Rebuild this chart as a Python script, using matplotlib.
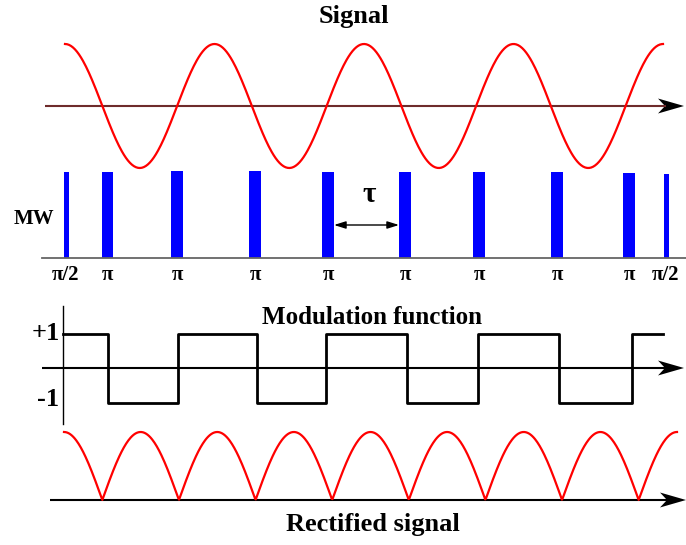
import numpy as np
import matplotlib
matplotlib.use("Agg")
import matplotlib.pyplot as plt

# layout in image pixels (y grows downward)
W, H = 686, 545

# top panel: the signal
signal_x = (65, 663)          # start / end of the cosine
signal_periods = 4
signal_axis_y = 106
signal_amp = 62

# MW pulses
pulse_x = [66, 107, 177, 255, 328, 405, 479, 557, 629, 666]
pulse_w = [5, 11, 12, 12, 12, 12, 12, 12, 12, 5]
pulse_top = [172, 172, 171, 171, 172, 172, 172, 172, 173, 174]
pulse_labels = ["π/2", "π", "π", "π", "π", "π", "π", "π", "π", "π/2"]
mw_base_y = 258

# modulation function
mod_edges = [63, 108, 178, 257, 326, 407, 478, 559, 632, 663]
mod_levels = [1, -1, 1, -1, 1, -1, 1, -1, 1]
mod_axis_y = 368
mod_scale = 34.5

# rectified signal
rect_x = (64, 677)
rect_humps = 8
rect_axis_y = 500
rect_amp = 68

serif = "Liberation Serif"

fig = plt.figure(figsize=(W / 100, H / 100), dpi=100)
ax = fig.add_axes([0, 0, 1, 1])
ax.set_xlim(0, W)
ax.set_ylim(H, 0)
ax.axis("off")


def arrow_axis(y, x0, x1, color):
    # line plus a stealth-shaped black head
    ax.plot([x0, x1 - 18], [y, y], color=color, lw=1.5, solid_capstyle="butt")
    ax.fill([x1, x1 - 26, x1 - 19, x1 - 26], [y, y - 7.5, y, y + 7.5],
            color="black", lw=0)


def label(x, y, s, size):
    ax.text(x, y, s, fontsize=size, fontweight="bold", family=serif,
            ha="center", va="center")


# --- Signal ---
label(354, 17, "Signal", 19)
arrow_axis(signal_axis_y, 45, 684, "#6e2b2b")
x = np.linspace(signal_x[0], signal_x[1], 600)
ph = (x - signal_x[0]) / (signal_x[1] - signal_x[0]) * signal_periods * 2 * np.pi
ax.plot(x, signal_axis_y - signal_amp * np.cos(ph), color="red", lw=1.6)

# --- MW pulses ---
ax.plot([42, 686], [mw_base_y, mw_base_y], color="#666666", lw=1.3)
for px, pw, pt, lab in zip(pulse_x, pulse_w, pulse_top, pulse_labels):
    ax.bar(px, pt - mw_base_y, width=pw, bottom=mw_base_y, color="blue",
           edgecolor="none")
    label(px, 275, lab, 15)
label(34, 219, "MW", 15)
label(369, 195, "τ", 21)
ax.annotate("", xy=(pulse_x[4] + 6, 225), xytext=(pulse_x[5] - 6, 225),
            arrowprops=dict(arrowstyle="<|-|>,head_length=0.7,head_width=0.22",
                            color="black", lw=1.0, shrinkA=0, shrinkB=0))

# --- Modulation function ---
label(372, 317, "Modulation function", 18)
ax.plot([63, 63], [306, 424], color="black", lw=1.0)
arrow_axis(mod_axis_y, 42, 684, "black")
mx, my = [], []
for i, lev in enumerate(mod_levels):
    yv = mod_axis_y - lev * mod_scale
    mx += [mod_edges[i], mod_edges[i + 1]]
    my += [yv, yv]
ax.plot(mx, my, color="black", lw=2.0)
label(46, 334, "+1", 19)
label(48, 400, "-1", 19)

# --- Rectified signal ---
arrow_axis(rect_axis_y, 50, 686, "black")
xr = np.linspace(rect_x[0], rect_x[1], 800)
phr = (xr - rect_x[0]) / (rect_x[1] - rect_x[0]) * rect_humps * np.pi
ax.plot(xr, rect_axis_y - rect_amp * np.abs(np.cos(phr)), color="red", lw=1.6)
label(373, 525, "Rectified signal", 19)

fig.savefig("out.png", dpi=100)
